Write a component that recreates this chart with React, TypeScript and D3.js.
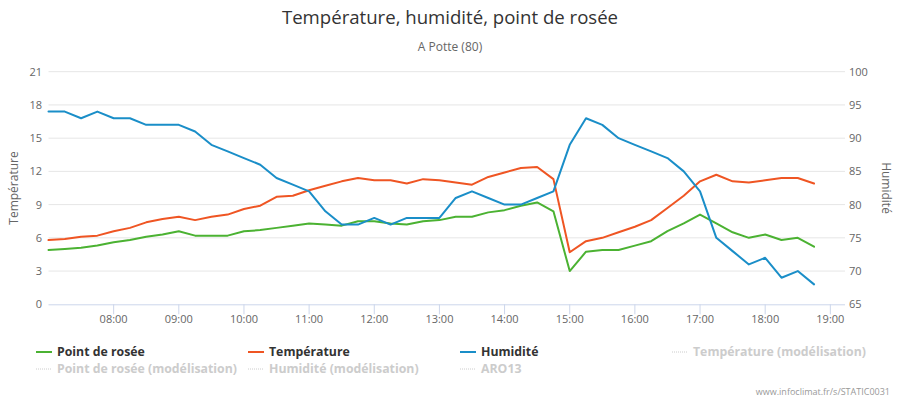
import React from "react";
import * as d3 from "d3";

const startHour = 7;
const stepMinutes = 15;
const temperature = [5.8, 5.9, 6.1, 6.2, 6.6, 6.9, 7.4, 7.7, 7.9, 7.6, 7.9, 8.1, 8.6, 8.9, 9.7, 9.8,
  10.3, 10.7, 11.1, 11.4, 11.2, 11.2, 10.9, 11.3, 11.2, 11.0, 10.8, 11.5, 11.9, 12.3, 12.4, 11.3,
  4.7, 5.7, 6.0, 6.5, 7.0, 7.6, 8.7, 9.8, 11.1, 11.7, 11.1, 11.0, 11.2, 11.4, 11.4, 10.9];
const dewPoint = [4.9, 5.0, 5.1, 5.3, 5.6, 5.8, 6.1, 6.3, 6.6, 6.2, 6.2, 6.2, 6.6, 6.7, 6.9, 7.1,
  7.3, 7.2, 7.1, 7.5, 7.5, 7.3, 7.2, 7.5, 7.6, 7.9, 7.9, 8.3, 8.5, 8.9, 9.2, 8.4,
  3.0, 4.75, 4.9, 4.9, 5.3, 5.7, 6.6, 7.3, 8.1, 7.3, 6.5, 6.0, 6.3, 5.8, 6.0, 5.2];
const humidity = [94, 94, 93, 94, 93, 93, 92, 92, 92, 91, 89, 88, 87, 86, 84, 83,
  82, 79, 77, 77, 78, 77, 78, 78, 78, 81, 82, 81, 80, 80, 81, 82,
  89, 93, 92, 90, 89, 88, 87, 85, 82, 75, 73, 71, 72, 69, 70, 68];
const leftTicks = [0, 3, 6, 9, 12, 15, 18, 21];
const rightTicks = [65, 70, 75, 80, 85, 90, 95, 100];
const xTickHours = [8, 9, 10, 11, 12, 13, 14, 15, 16, 17, 18, 19];

const legendItems = [
  { name: "Point de rosée", color: "#4bb232", visible: true },
  { name: "Température", color: "#ef5523", visible: true },
  { name: "Humidité", color: "#1a8ec8", visible: true },
  { name: "Température (modélisation)", color: "#cccccc", visible: false },
  { name: "Point de rosée (modélisation)", color: "#cccccc", visible: false },
  { name: "Humidité (modélisation)", color: "#cccccc", visible: false },
  { name: "ARO13", color: "#cccccc", visible: false },
];

const FONT = "'Open Sans', 'DejaVu Sans', sans-serif";

export default function App() {
  const W = 900, H = 400;
  const left = 48.5, right = 845, top = 71.7, bottom = 304.3;
  const x = d3.scaleLinear().domain([7, 19 + 13.5 / 60]).range([left, right]);
  const yL = d3.scaleLinear().domain([0, 21]).range([bottom, top]);
  const yR = d3.scaleLinear().domain([65, 100]).range([bottom, top]);
  const hourAt = (i: number) => startHour + (i * stepMinutes) / 60;

  const lineL = d3.line<number>().x((_, i) => x(hourAt(i))).y((d) => yL(d));
  const lineR = d3.line<number>().x((_, i) => x(hourAt(i))).y((d) => yR(d));

  const series = [
    { data: dewPoint, color: legendItems[0].color, gen: lineL },
    { data: temperature, color: legendItems[1].color, gen: lineL },
    { data: humidity, color: legendItems[2].color, gen: lineR },
  ];

  const legendCols = [36, 248, 460, 672];
  const legendRows = [352, 369];

  return (
    <svg width={W} height={H} style={{ position: "absolute", left: 0, top: 0, fontFamily: FONT }}>
      <rect width={W} height={H} fill="#ffffff" />
      <text x={450} y={24} textAnchor="middle" fontSize={18.6} fill="#333333">
        Température, humidité, point de rosée
      </text>
      <text x={450} y={51} textAnchor="middle" fontSize={12} fill="#666666">
        A Potte (80)
      </text>
      {leftTicks.map((t) => (
        <g key={"gl" + t}>
          {t !== 0 && (
            <line x1={left} x2={right} y1={yL(t)} y2={yL(t)} stroke="#e6e6e6" strokeWidth={1} />
          )}
          <text x={42} y={yL(t) + 4} textAnchor="end" fontSize={11} fill="#666666">
            {t}
          </text>
        </g>
      ))}
      {rightTicks.map((t) => (
        <text key={"r" + t} x={849} y={yR(t) + 4} textAnchor="start" fontSize={11} fill="#666666">
          {t}
        </text>
      ))}
      <line x1={left} x2={right} y1={bottom + 0.5} y2={bottom + 0.5} stroke="#ccd6eb" strokeWidth={1} />
      {xTickHours.map((h) => (
        <g key={"x" + h}>
          <line x1={x(h)} x2={x(h)} y1={bottom} y2={bottom + 10} stroke="#ccd6eb" strokeWidth={1} />
          <text x={x(h)} y={bottom + 19} textAnchor="middle" fontSize={11} fill="#666666">
            {String(h).padStart(2, "0") + ":00"}
          </text>
        </g>
      ))}
      <text
        transform={`translate(18,${(top + bottom) / 2}) rotate(-90)`}
        textAnchor="middle"
        fontSize={12}
        fill="#666666"
      >
        Température
      </text>
      <text
        transform={`translate(882,${(top + bottom) / 2}) rotate(90)`}
        textAnchor="middle"
        fontSize={12}
        fill="#666666"
      >
        Humidité
      </text>
      {series.map((s, k) => (
        <path
          key={"s" + k}
          d={s.gen(s.data) || ""}
          fill="none"
          stroke={s.color}
          strokeWidth={2}
          strokeLinejoin="round"
          strokeLinecap="round"
        />
      ))}
      {legendItems.map((item, i) => {
        const col = legendCols[i < 4 ? i : i - 4];
        const row = legendRows[i < 4 ? 0 : 1];
        return (
          <g key={"lg" + i}>
            <line
              x1={col}
              x2={col + 16}
              y1={row}
              y2={row}
              stroke={item.color}
              strokeWidth={item.visible ? 2 : 1}
              strokeDasharray={item.visible ? undefined : "1,1"}
            />
            <text x={col + 21} y={row + 4} fontSize={12.3} fontWeight="bold" fill={item.visible ? "#333333" : "#cccccc"}>
              {item.name}
            </text>
          </g>
        );
      })}
      <text x={890} y={395} textAnchor="end" fontSize={9} fill="#999999">
        www.infoclimat.fr/s/STATIC0031
      </text>
    </svg>
  );
}
